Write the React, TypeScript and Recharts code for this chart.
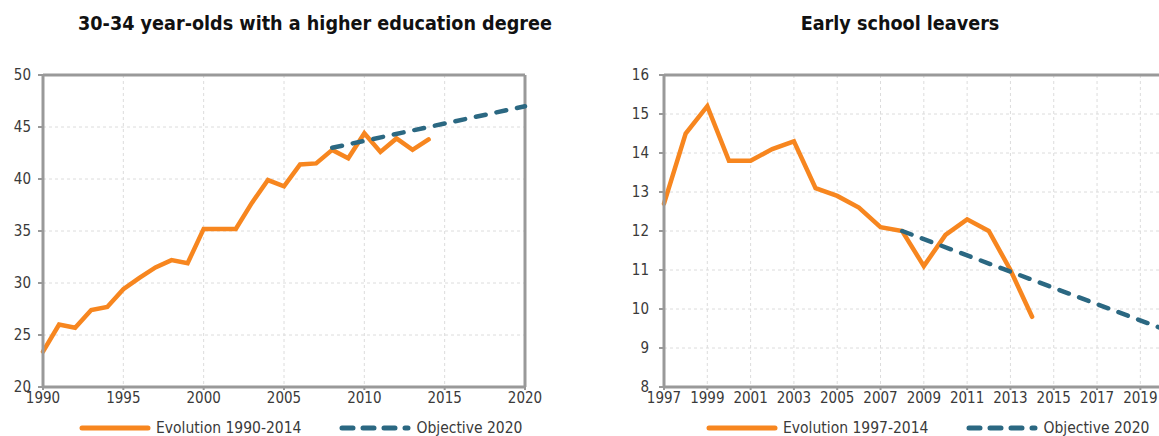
import { LineChart, Line, XAxis, YAxis, CartesianGrid, ReferenceLine } from 'recharts'

// left panel: tertiary attainment, 30-34 year-olds (%)
const eduYears = [1990, 1991, 1992, 1993, 1994, 1995, 1996, 1997, 1998, 1999, 2000, 2001, 2002,
  2003, 2004, 2005, 2006, 2007, 2008, 2009, 2010, 2011, 2012, 2013, 2014]
const eduValues = [23.4, 26.0, 25.7, 27.4, 27.7, 29.4, 30.5, 31.5, 32.2, 31.9, 35.2, 35.2, 35.2,
  37.7, 39.9, 39.3, 41.4, 41.5, 42.8, 42.0, 44.4, 42.6, 43.9, 42.8, 43.8]
const eduObjYears = [2008, 2020]
const eduObjValues = [43.0, 47.0]
const eduXTicks = [1990, 1995, 2000, 2005, 2010, 2015, 2020]
const eduYTicks = [20, 25, 30, 35, 40, 45, 50]

// right panel: early school leavers (%)
const eslYears = [1997, 1998, 1999, 2000, 2001, 2002, 2003, 2004, 2005, 2006, 2007, 2008,
  2009, 2010, 2011, 2012, 2013, 2014]
const eslValues = [12.7, 14.5, 15.2, 13.8, 13.8, 14.1, 14.3, 13.1, 12.9, 12.6, 12.1, 12.0,
  11.1, 11.9, 12.3, 12.0, 11.0, 9.8]
const eslObjYears = [2008, 2020]
const eslObjValues = [12.0, 9.5]
const eslXTicks = [1997, 1999, 2001, 2003, 2005, 2007, 2009, 2011, 2013, 2015, 2017, 2019]
const eslYTicks = [8, 9, 10, 11, 12, 13, 14, 15, 16]

const ORANGE = '#f7861f'
const BLUE = '#2b6882'
const AXIS = '#999'
const FONT = "'DejaVu Sans Condensed', 'DejaVu Sans', sans-serif"
const tickStyle = { fontSize: 15, fill: '#3a3a3a', fontFamily: FONT }

const zip = (xs: number[], ys: number[]) => xs.map((x, i) => ({ x, y: ys[i] }))

function LegendRow({ left, labels }: { left: number, labels: string[] }) {
  return (
    <div style={{ position: 'absolute', left, top: 418, display: 'flex', alignItems: 'center',
      fontFamily: FONT, fontSize: 15.5, color: '#3a3a3a', whiteSpace: 'nowrap' }}>
      <svg width={72} height={20} style={{ marginRight: 5 }}>
        <line x1={3} y1={10} x2={69} y2={10} stroke={ORANGE} strokeWidth={5} strokeLinecap="round" />
      </svg>
      <span style={{ marginRight: 38 }}>{labels[0]}</span>
      <svg width={72} height={20} style={{ marginRight: 5 }}>
        <line x1={3} y1={10} x2={69} y2={10} stroke={BLUE} strokeWidth={5} strokeLinecap="round" strokeDasharray="11 10" />
      </svg>
      <span>{labels[1]}</span>
    </div>
  )
}

function Title({ center, text }: { center: number, text: string }) {
  return (
    <div style={{ position: 'absolute', left: center - 300, width: 600, top: 12, textAlign: 'center',
      fontFamily: FONT, fontWeight: 'bold', fontSize: 19.6, color: '#111' }}>{text}</div>
  )
}

export default function App() {
  return (
    <div style={{ position: 'fixed', left: 0, top: 0, width: 1159, height: 436, overflow: 'hidden', background: '#fff' }}>
      <Title center={315} text="30-34 year-olds with a higher education degree" />
      <Title center={900} text="Early school leavers" />

      <div style={{ position: 'absolute', left: 0, top: 0 }}>
        <LineChart width={580} height={436} margin={{ top: 75, right: 55, bottom: 19, left: 0 }}>
          <CartesianGrid stroke="#dcdcdc" strokeDasharray="3 3" />
          <XAxis type="number" dataKey="x" domain={[1990, 2020]} ticks={eduXTicks} height={30}
            tick={tickStyle} tickSize={3} tickMargin={2} stroke={AXIS} strokeWidth={3} tickLine={{ stroke: AXIS, strokeWidth: 2 }} />
          <YAxis type="number" domain={[20, 50]} ticks={eduYTicks} width={43}
            tick={tickStyle} tickSize={5} tickMargin={7} stroke={AXIS} strokeWidth={3} tickLine={{ stroke: AXIS, strokeWidth: 2 }} />
          <ReferenceLine y={50} stroke={AXIS} strokeWidth={3} />
          <ReferenceLine x={2020} stroke={AXIS} strokeWidth={3} />
          <Line data={zip(eduYears, eduValues)} dataKey="y" stroke={ORANGE} strokeWidth={4.5} dot={false}
            strokeLinecap="round" isAnimationActive={false} />
          <Line data={zip(eduObjYears, eduObjValues)} dataKey="y" stroke={BLUE} strokeWidth={4.5} dot={false}
            strokeDasharray="10 11" strokeLinecap="round" isAnimationActive={false} />
        </LineChart>
      </div>

      <div style={{ position: 'absolute', left: 600, top: 0 }}>
        <LineChart width={600} height={436} margin={{ top: 75, right: 38, bottom: 19, left: 0 }}>
          <CartesianGrid stroke="#dcdcdc" strokeDasharray="3 3" />
          <XAxis type="number" dataKey="x" domain={[1997, 2020]} ticks={eslXTicks} height={30} interval={0}
            tick={tickStyle} tickSize={3} tickMargin={2} stroke={AXIS} strokeWidth={3} tickLine={{ stroke: AXIS, strokeWidth: 2 }} />
          <YAxis type="number" domain={[8, 16]} ticks={eslYTicks} width={64}
            tick={tickStyle} tickSize={5} tickMargin={10} stroke={AXIS} strokeWidth={3} tickLine={{ stroke: AXIS, strokeWidth: 2 }} />
          <ReferenceLine y={16} stroke={AXIS} strokeWidth={3} />
          <Line data={zip(eslYears, eslValues)} dataKey="y" stroke={ORANGE} strokeWidth={4.5} dot={false}
            strokeLinecap="round" isAnimationActive={false} />
          <Line data={zip(eslObjYears, eslObjValues)} dataKey="y" stroke={BLUE} strokeWidth={4.5} dot={false}
            strokeDasharray="10 11" strokeLinecap="round" isAnimationActive={false} />
        </LineChart>
      </div>

      <LegendRow left={79} labels={['Evolution 1990-2014', 'Objective 2020']} />
      <LegendRow left={706} labels={['Evolution 1997-2014', 'Objective 2020']} />
    </div>
  )
}
